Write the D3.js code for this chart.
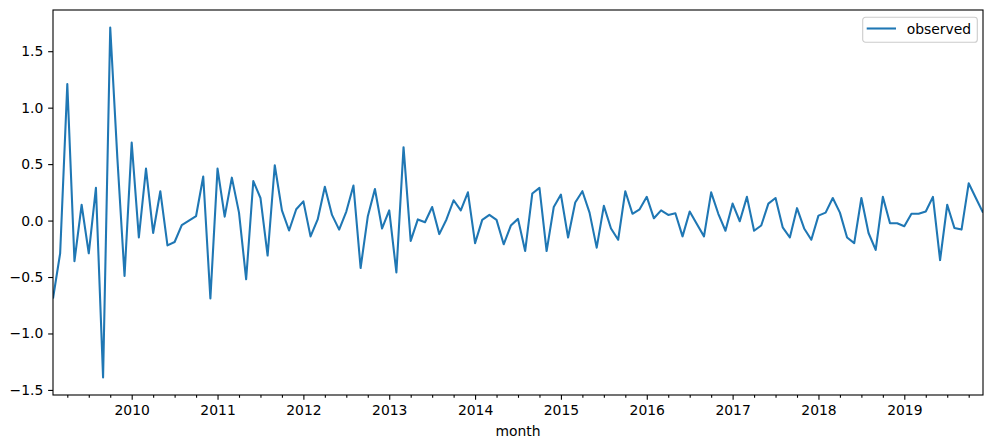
<!DOCTYPE html>
<html>
<head>
<meta charset="utf-8">
<script src="https://cdn.jsdelivr.net/npm/d3@7"></script>
<style>
  body { margin: 0; background: #fff; }
  svg { display: block; font-family: "DejaVu Sans", sans-serif; }
</style>
</head>
<body>
<div id="container"></div>
<script>
// monthly series, first month is 2009-02
const startYear = 2009;
const startMonth = 2;
const values = [
  -0.69, -0.29, 1.21, -0.36, 0.14, -0.29, 0.29, -1.39, 1.71, 0.55, -0.49,        // 2009 Feb-Dec
  0.69, -0.15, 0.46, -0.11, 0.26, -0.22, -0.19, -0.04, 0.0, 0.04, 0.39, -0.69,   // 2010
  0.46, 0.035, 0.38, 0.07, -0.52, 0.35, 0.20, -0.31, 0.49, 0.09, -0.088, 0.10,   // 2011
  0.17, -0.14, 0.01, 0.30, 0.05, -0.08, 0.08, 0.31, -0.42, 0.035, 0.28, -0.07,   // 2012
  0.09, -0.46, 0.65, -0.18, 0.01, -0.015, 0.12, -0.12, 0.01, 0.18, 0.09, 0.25,   // 2013
  -0.20, 0.006, 0.05, 0.006, -0.21, -0.044, 0.015, -0.27, 0.24, 0.29, -0.27, 0.12, // 2014
  0.23, -0.15, 0.16, 0.26, 0.07, -0.24, 0.13, -0.07, -0.17, 0.26, 0.06, 0.10,    // 2015
  0.21, 0.02, 0.09, 0.05, 0.065, -0.14, 0.08, -0.03, -0.14, 0.25, 0.06, -0.09,   // 2016
  0.15, -0.006, 0.21, -0.09, -0.044, 0.15, 0.20, -0.06, -0.15, 0.11, -0.07, -0.17, // 2017
  0.044, 0.07, 0.20, 0.07, -0.15, -0.20, 0.20, -0.11, -0.26, 0.21, -0.024, -0.024, // 2018
  -0.05, 0.06, 0.06, 0.08, 0.21, -0.35, 0.14, -0.065, -0.08, 0.33, 0.20, 0.07    // 2019
];
const yearTicks = [2010, 2011, 2012, 2013, 2014, 2015, 2016, 2017, 2018, 2019];
const yTicks = [-1.5, -1.0, -0.5, 0.0, 0.5, 1.0, 1.5];
const seriesName = "observed";
const xLabel = "month";

const W = 993, H = 448;
const margin = {left: 53, top: 10, right: 10, bottom: 53};
const width = W - margin.left - margin.right;
const height = H - margin.top - margin.bottom;
const fontSize = "13.9px";

// month ordinal: year*12 + (month-1), evenly spaced like a period index
const data = values.map((v, i) => ({ m: startYear * 12 + (startMonth - 1) + i, v: v }));

const svg = d3.select("div#container").append("svg")
    .attr("width", W)
    .attr("height", H);

const g = svg.append("g")
    .attr("transform", "translate(" + margin.left + "," + margin.top + ")");

const xScale = d3.scaleLinear()
    .domain(d3.extent(data, d => d.m))
    .range([0, width]);

let lo = d3.min(values), hi = d3.max(values);
let pad = (hi - lo) * 0.05;
const yScale = d3.scaleLinear()
    .domain([lo - pad, hi + pad])
    .range([height, 0]);

// minor ticks, quarterly
let minor = [];
for (let m = xScale.domain()[0]; m <= xScale.domain()[1]; m++) {
  if (m % 3 === 0 && m % 12 !== 0) minor.push(m);
}

const xaxis = d3.axisBottom(xScale)
    .tickValues(yearTicks.map(y => y * 12))
    .tickFormat(d => Math.floor(d / 12))
    .tickSize(4.86)
    .tickPadding(4.86);

const xminor = d3.axisBottom(xScale)
    .tickValues(minor)
    .tickFormat("")
    .tickSize(2.78);

const yaxis = d3.axisLeft(yScale)
    .tickValues(yTicks)
    .tickFormat(d => d3.format(".1f")(d).replace("-", "\u2212"))
    .tickSize(4.86)
    .tickPadding(4.86);

function styleAxis(sel) {
  sel.select(".domain").remove();
  sel.selectAll(".tick line").attr("stroke", "#000").attr("stroke-width", 1.1);
  sel.selectAll(".tick text").attr("fill", "#000").style("font-size", fontSize)
     .style("font-family", "'DejaVu Sans', sans-serif");
}

g.append("g").attr("transform", "translate(0," + height + ")").call(xaxis).call(styleAxis);
g.append("g").attr("transform", "translate(0," + height + ")").call(xminor).call(styleAxis);
g.append("g").call(yaxis).call(styleAxis);

const line = d3.line()
    .x(d => xScale(d.m))
    .y(d => yScale(d.v));

g.append("clipPath").attr("id", "clip")
  .append("rect").attr("width", width).attr("height", height);

g.append("path")
    .attr("d", line(data))
    .attr("clip-path", "url(#clip)")
    .attr("stroke", "#1f77b4")
    .attr("stroke-width", 2.08)
    .attr("stroke-linejoin", "round")
    .attr("fill", "none");

// frame
g.append("rect")
    .attr("width", width)
    .attr("height", height)
    .attr("fill", "none")
    .attr("stroke", "#000")
    .attr("stroke-width", 1.1);

// x label
svg.append("text")
    .attr("x", margin.left + width / 2)
    .attr("y", 435.5)
    .attr("text-anchor", "middle")
    .style("font-size", fontSize)
    .text(xLabel);

// legend
const leg = svg.append("g").attr("transform", "translate(862.7,17.3)");
leg.append("rect")
    .attr("width", 114.6)
    .attr("height", 25)
    .attr("rx", 2.8)
    .attr("fill", "#fff")
    .attr("fill-opacity", 0.8)
    .attr("stroke", "#cccccc")
    .attr("stroke-width", 1.1);
leg.append("line")
    .attr("x1", 4).attr("x2", 33.3)
    .attr("y1", 11.2).attr("y2", 11.2)
    .attr("stroke", "#1f77b4")
    .attr("stroke-width", 2.08);
leg.append("text")
    .attr("x", 44)
    .attr("y", 16.3)
    .style("font-size", fontSize)
    .text(seriesName);
</script>
</body>
</html>
